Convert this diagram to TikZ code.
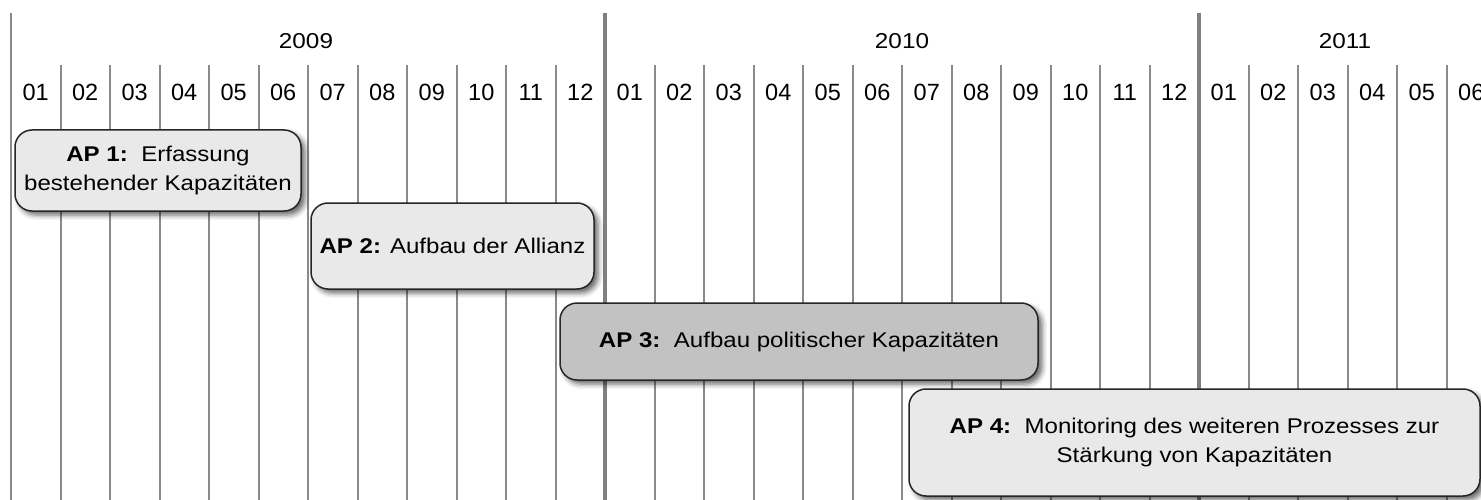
\documentclass[tikz,border=0pt]{standalone}
\usepackage{fontspec}
\setmainfont{Liberation Sans}
\newfontfamily\boxfont{Liberation Sans}[FakeStretch=1.13]
\usetikzlibrary{shadows.blur}
\definecolor{gridgray}{HTML}{8A8A8A}
\definecolor{yeargray}{HTML}{808080}
\definecolor{boxlight}{HTML}{E9E9E9}
\definecolor{boxdark}{HTML}{C2C2C2}
\definecolor{boxline}{HTML}{262626}
\tikzset{
  monthline/.style={draw=gridgray, line width=2pt},
  yearline/.style={draw=yeargray, line width=4.5pt},
  firstline/.style={draw=gridgray, line width=2pt},
  monthlabel/.style={inner sep=0pt, font=\fontsize{23.5}{26}\selectfont},
  yearlabel/.style={inner sep=0pt, font=\boxfont\fontsize{21.5}{24}\selectfont},
  apbox/.style={draw=boxline, line width=1.5pt, rounded corners=17pt, fill=boxlight,
    align=center, inner sep=0pt, font=\boxfont\fontsize{21.3}{28.5}\selectfont,
    blur shadow={shadow xshift=4pt, shadow yshift=-4pt, shadow blur radius=5pt, shadow opacity=60}},
  apdark/.style={apbox, fill=boxdark}
}
\begin{document}
\begin{tikzpicture}[x=1pt,y=-1pt]
\useasboundingbox (0,0) rectangle (1481,500);
\clip (0,0) rectangle (1481,500);
% month lines
\foreach \xa in {11,605,1199}{
  \foreach \k in {1,...,11}{
    \draw[monthline] (\xa+49.5*\k,65) -- (\xa+49.5*\k,500);
  }
}
% year lines
\draw[firstline] (11,13) -- (11,500);
\draw[yearline] (605,13) -- (605,500);
\draw[yearline] (1199,13) -- (1199,500);
% year labels
\node[yearlabel] (y2009) at (306,41) {2009};
\node[yearlabel] (y2010) at (902,41) {2010};
\node[yearlabel] (y2011) at (1345,41) {2011};
% month labels
\foreach \yr/\xa in {2009/11,2010/605}{
  \foreach \m [count=\i from 0] in {01,02,03,04,05,06,07,08,09,10,11,12}{
    \node[monthlabel] (m-\yr-\m) at (\xa+49.5*\i+24.75,92) {\m};
  }
}
\foreach \m [count=\i from 0] in {01,02,03,04,05,06}{
  \node[monthlabel] (m-2011-\m) at (1199+49.5*\i+24.75,92) {\m};
}
% work packages
\node[apbox, minimum width=286pt, minimum height=81pt] (ap1) at (158,170.5)
  {\textbf{AP 1:}\ \ Erfassung\\bestehender Kapazitäten};
\node[apbox, minimum width=283pt, minimum height=86pt] (ap2) at (452.5,246)
  {\textbf{AP 2:} Aufbau der Allianz};
\node[apdark, minimum width=478pt, minimum height=77pt] (ap3) at (799,341.5)
  {\textbf{AP 3:}\ \ Aufbau politischer Kapazitäten};
\node[apbox, minimum width=571pt, minimum height=107pt] (ap4) at (1194.5,442.5)
  {\textbf{AP 4:}\ \ Monitoring des weiteren Prozesses zur\\Stärkung von Kapazitäten};
\end{tikzpicture}
\end{document}
